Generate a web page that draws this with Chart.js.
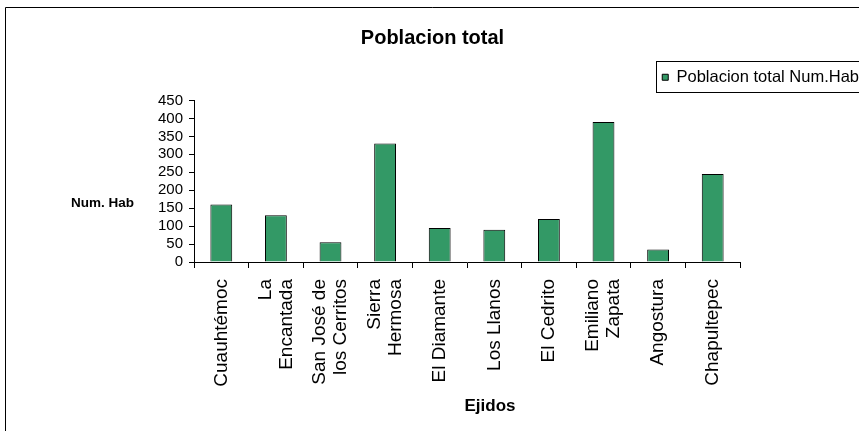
<!DOCTYPE html>
<html>
<head>
<meta charset="utf-8">
<script src="https://cdn.jsdelivr.net/npm/chart.js@4.4.0/dist/chart.umd.min.js"></script>
<style>
html, body { margin: 0; padding: 0; background: #fff; }
</style>
</head>
<body>
<canvas id="grafica" width="859" height="431"></canvas>
<script>
// Datos
const ejidos = ['Cuauhtémoc', ['La', 'Encantada'], ['San José de', 'los Cerritos'], ['Sierra', 'Hermosa'],
    'El Diamante', 'Los Llanos', 'El Cedrito', ['Emiliano', 'Zapata'], 'Angostura', 'Chapultepec'];
const poblacion = [160, 130, 55, 330, 95, 90, 120, 390, 35, 245];
const yMin = 0;
const yMax = 450;
const yPaso = 50;

const fuente = "'Liberation Sans', Arial, sans-serif";
Chart.defaults.font.family = fuente;
Chart.defaults.color = '#000';

const tamEtiqueta = 19;
const altoLinea = 1.1;

// marco exterior, caja de la leyenda, titulos de ejes
const marco = {
    id: 'marco',
    beforeDraw(chart) {
        const ctx = chart.ctx;
        ctx.save();
        ctx.fillStyle = '#fff';
        ctx.fillRect(0, 0, chart.width, chart.height);
        ctx.strokeStyle = '#000';
        ctx.lineWidth = 1;
        ctx.beginPath();
        ctx.moveTo(5.5, chart.height);
        ctx.lineTo(5.5, 7.5);
        ctx.lineTo(chart.width, 7.5);
        ctx.stroke();
        ctx.restore();

        // etiquetas de dos lineas centradas en la categoria
        const lh = tamEtiqueta * altoLinea;
        chart.scales.x.getLabelItems().forEach(it => {
            if (Array.isArray(it.label)) it.textOffset -= (it.label.length - 1) * lh / 2;
        });
    },
    afterDraw(chart) {
        const ctx = chart.ctx;
        const hb = chart.legend.legendHitBoxes[0];
        const ca = chart.chartArea;
        ctx.save();
        ctx.strokeStyle = '#000';
        ctx.lineWidth = 1;
        ctx.strokeRect(Math.round(hb.left) - 5.5, Math.round(hb.top) - 7.5, 300, Math.round(hb.height) + 14);
        ctx.fillStyle = '#000';
        ctx.textBaseline = 'middle';
        ctx.textAlign = 'left';
        ctx.font = 'bold 13.5px ' + fuente;
        ctx.fillText('Num. Hab', ca.left - 123, ca.bottom - 59);
        ctx.textAlign = 'center';
        ctx.font = 'bold 17px ' + fuente;
        ctx.fillText('Ejidos', ca.left + 296, ca.bottom + 144);
        ctx.restore();
    }
};

const grafica = new Chart(document.getElementById('grafica'), {
    type: 'bar',
    data: {
        labels: ejidos,
        datasets: [{
            label: 'Poblacion total Num.Hab',
            data: poblacion,
            backgroundColor: '#339966',
            borderColor: '#000',
            borderWidth: 1,
            barPercentage: 0.4,
            categoryPercentage: 1.0
        }]
    },
    options: {
        responsive: false,
        animation: false,
        layout: { padding: { top: 10, left: 6, right: 0, bottom: 8 } },
        plugins: {
            title: {
                display: true,
                text: 'Poblacion total',
                font: { size: 20, weight: 'bold' },
                color: '#000',
                padding: { top: 16, bottom: 19 }
            },
            legend: {
                position: 'top',
                align: 'end',
                labels: {
                    boxWidth: 6,
                    boxHeight: 6,
                    font: { size: 16.5 },
                    color: '#000',
                    padding: 0
                }
            },
            tooltip: { enabled: false }
        },
        scales: {
            x: {
                grid: { display: true, drawOnChartArea: false, offset: true, tickLength: 6, color: '#000' },
                border: { color: '#000' },
                ticks: {
                    maxRotation: 90, minRotation: 90, autoSkip: false,
                    font: { size: tamEtiqueta, lineHeight: altoLinea }, padding: 11
                },
                afterFit(s) { s.height = 161; }
            },
            x2: {
                type: 'linear',
                position: 'top',
                display: true,
                ticks: { display: false },
                grid: { display: false },
                border: { display: false },
                afterFit(s) { s.height = 5; }
            },
            y: {
                min: yMin,
                max: yMax,
                ticks: { stepSize: yPaso, autoSkip: false, font: { size: 15 }, padding: 6 },
                grid: { drawOnChartArea: false, tickLength: 5, color: '#000' },
                border: { color: '#000' },
                afterFit(s) { s.width = 188; }
            },
            y2: {
                type: 'linear',
                position: 'right',
                display: true,
                ticks: { display: false },
                grid: { display: false },
                border: { display: false },
                afterFit(s) { s.width = 119; }
            }
        }
    },
    plugins: [marco]
});
</script>
</body>
</html>
